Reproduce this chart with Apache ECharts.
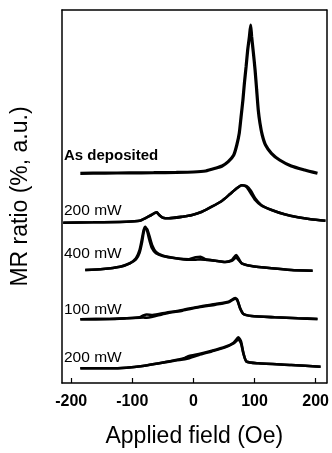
<!DOCTYPE html>
<html><head><meta charset="utf-8">
<script src="https://cdn.jsdelivr.net/npm/echarts@6/dist/echarts.min.js"></script>
<style>html,body{margin:0;padding:0;background:#fff}#c{width:332px;height:453px}</style>
</head><body><div id="c"></div>
<script>
// ---- data (applied field in Oe, MR ratio in arbitrary offset units) ----
const xTicks = [-200, -100, 0, 100, 200];
const curveNames = ['As deposited', '200 mW', '400 mW', '100 mW', '200 mW'];

const asDepField = [-185, -145, -105, -65, -28, 0, 20, 36, 47, 57, 66, 71, 75, 78, 81, 83.4, 86.2, 88.8, 91.6, 93.7, 95.3, 98.2, 100.9, 103.5, 106.1, 108.9, 112.6, 118, 127.6, 141, 160, 182, 203];
const asDepMR    = [209.7, 209.9, 210.1, 210.3, 210.6, 211, 212, 214.7, 217, 221.3, 228, 238, 249.7, 266.3, 283, 299.7, 316.3, 333, 346.3, 358, 346.3, 329.7, 313, 293, 273, 259.7, 248, 238, 229.7, 223, 217, 213, 209.7];

const mw200aField = [-213, -164, -110, -88, -77, -69, -60, -56, -50, -40, -18, -2, 14, 30, 47, 60, 71, 79, 87, 94, 101, 111, 128, 149, 171, 192, 216];
const mw200aUp    = [160.3, 160.7, 161.3, 162.3, 165.3, 168, 170.7, 168, 165.3, 164.7, 166.3, 168, 171.3, 176.3, 182.3, 189, 194.7, 197.7, 197, 192.3, 184.7, 178, 173, 168.7, 165.7, 163.7, 162.3];
const mw200aDown  = [160.3, 160.7, 161.3, 162.3, 165.3, 168, 170.7, 168, 165.3, 164.7, 166.3, 168, 171.3, 176.3, 182.3, 189, 194.7, 197.7, 196, 189.5, 183, 177.5, 173, 168.7, 165.7, 163.7, 162.3];

const mw400Field = [-177, -148, -120, -104, -94, -88, -84, -81.4, -78.7, -75.4, -72, -67.7, -61.3, -50.5, -28.8, -7.3, 3.6, 11.7, 19.8, 36, 52, 62.8, 70, 73.7, 79, 95, 128, 160, 195];
const mw400Up    = [113, 114, 116.3, 119.7, 124.7, 133, 144.7, 153, 156.3, 151.3, 143, 134.7, 129.7, 127, 124.7, 123.7, 125.7, 126.3, 123.7, 122.3, 121, 123, 128, 124.7, 119.7, 117, 114.7, 113, 112.3];
const mw400Down  = [113, 114, 116.3, 119.7, 123.5, 130.5, 141, 150.5, 155.5, 153.5, 147, 138, 131, 127.5, 124.7, 123.2, 123.3, 123.6, 123.2, 122.3, 121, 122.2, 125.5, 123.2, 119.7, 117, 114.7, 113, 112.3];

const mw100Field = [-185, -137, -110, -88, -82, -76.4, -66.7, -45, -18, 9, 36, 57.5, 68.3, 72, 76.4, 81.8, 95, 133, 171, 203];
const mw100Up    = [63.7, 64, 64.7, 65.7, 67.5, 68.5, 68, 70.3, 73, 76.3, 79, 81.3, 85, 83, 74.7, 69, 67, 65.7, 64.7, 64];
const mw100Down  = [63.7, 64, 64.7, 65.4, 65.5, 65.3, 66.3, 69.6, 72.4, 75.7, 78.4, 80.8, 84.2, 82.4, 74.7, 69, 67, 65.7, 64.7, 64];

const mw200bField = [-185, -137, -110, -83, -56, -29, -14, -7, 9, 30, 52, 65.6, 73.7, 78, 81.8, 87, 106, 160, 208];
const mw200bUp    = [14.7, 14.7, 15.3, 17, 19.7, 23, 25, 27, 29, 32.3, 36.3, 40.3, 45.7, 41.3, 29.7, 21.3, 19.7, 18, 16.3];
const mw200bDown  = [14.7, 14.7, 15.3, 17, 19.7, 22.5, 23.8, 24.8, 28, 31.6, 35.6, 39.5, 43.5, 39.5, 29.7, 21.3, 19.7, 18, 16.3];

// ---- chart ----
const zip = (xs, ys) => xs.map((x, i) => [x, ys[i]]);
const line = (xs, ys, w) => ({
  type: 'line', data: zip(xs, ys), showSymbol: false, symbol: 'none',
  smooth: 0.2, lineStyle: { color: '#000', width: w }, itemStyle: { color: '#000' },
  silent: true, animation: false
});
const ink = '#000';
const labelFont = 'Liberation Sans, Arial, sans-serif';

const chart = echarts.init(document.getElementById('c'), null, { renderer: 'canvas' });
chart.setOption({
  animation: false,
  backgroundColor: '#fff',
  grid: { left: 62, right: 3, top: 10, bottom: 70 },
  xAxis: [{
    type: 'value', min: -215, max: 218, position: 'bottom',
    axisLine: { show: true, onZero: false, lineStyle: { color: ink, width: 1.5 } },
    axisTick: { show: true, inside: true, length: 5, customValues: xTicks, lineStyle: { color: ink, width: 1.2 } },
    axisLabel: { show: true, customValues: xTicks, margin: 11, color: ink, fontSize: 16, fontWeight: 'bold', fontFamily: labelFont },
    splitLine: { show: false },
    name: 'Applied field (Oe)', nameLocation: 'middle', nameGap: 42,
    nameTextStyle: { color: ink, fontSize: 23, fontFamily: labelFont }
  }, {
    type: 'value', min: -215, max: 218, position: 'top',
    axisLine: { show: true, onZero: false, lineStyle: { color: ink, width: 1.5 } },
    axisTick: { show: false }, axisLabel: { show: false }, splitLine: { show: false }
  }],
  yAxis: [{
    type: 'value', min: 0, max: 373, position: 'left',
    axisLine: { show: true, onZero: false, lineStyle: { color: ink, width: 1.5 } },
    axisTick: { show: false }, axisLabel: { show: false }, splitLine: { show: false },
    name: 'MR ratio (%, a.u.)', nameLocation: 'middle', nameGap: 30,
    nameTextStyle: { color: ink, fontSize: 23, fontFamily: labelFont }
  }, {
    type: 'value', min: 0, max: 373, position: 'right',
    axisLine: { show: true, onZero: false, lineStyle: { color: ink, width: 1.5 } },
    axisTick: { show: false }, axisLabel: { show: false }, splitLine: { show: false }
  }],
  series: [
    line(asDepField, asDepMR, 3.2),
    line(mw200aField, mw200aUp, 2.6), line(mw200aField, mw200aDown, 2.6),
    line(mw400Field, mw400Up, 2.6), line(mw400Field, mw400Down, 2.6),
    line(mw100Field, mw100Up, 2.6), line(mw100Field, mw100Down, 2.6),
    line(mw200bField, mw200bUp, 2.6), line(mw200bField, mw200bDown, 2.6)
  ],
  graphic: [
    { type: 'text', x: 64, y: 156, style: { text: curveNames[0], fill: ink, font: 'bold 15px ' + labelFont, verticalAlign: 'middle', align: 'left' } },
    { type: 'text', x: 64, y: 210.5, style: { text: curveNames[1], fill: ink, font: '15.5px ' + labelFont, verticalAlign: 'middle', align: 'left' } },
    { type: 'text', x: 64, y: 253.5, style: { text: curveNames[2], fill: ink, font: '15.5px ' + labelFont, verticalAlign: 'middle', align: 'left' } },
    { type: 'text', x: 64, y: 309.5, style: { text: curveNames[3], fill: ink, font: '15.5px ' + labelFont, verticalAlign: 'middle', align: 'left' } },
    { type: 'text', x: 64, y: 357.5, style: { text: curveNames[4], fill: ink, font: '15.5px ' + labelFont, verticalAlign: 'middle', align: 'left' } }
  ]
});
</script></body></html>
